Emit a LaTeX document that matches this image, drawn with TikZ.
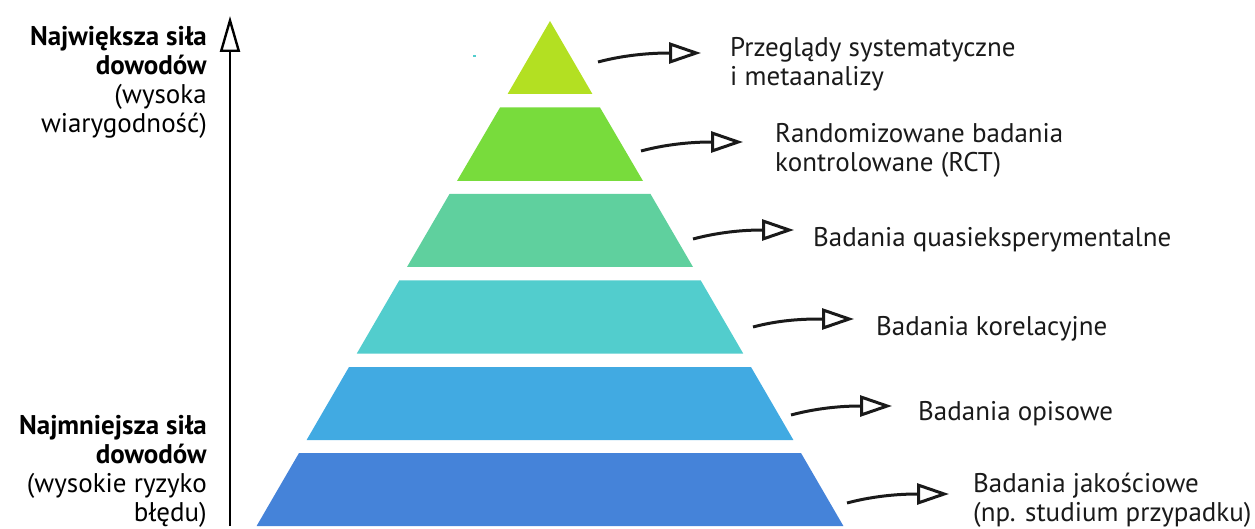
\documentclass[tikz,border=0pt]{standalone}
\usepackage{fontspec}
\setmainfont{PT Sans}
\usetikzlibrary{arrows.meta}
\definecolor{lvA}{HTML}{B3E022}
\definecolor{lvB}{HTML}{78DC3C}
\definecolor{lvC}{HTML}{5FD09E}
\definecolor{lvD}{HTML}{52CDCD}
\definecolor{lvE}{HTML}{41AAE2}
\definecolor{lvF}{HTML}{4583D9}
\definecolor{ink}{HTML}{1A1A1A}
\tikzset{
  lbl/.style={anchor=west, align=left, inner sep=0pt, font=\fontsize{27}{29}\selectfont, text=ink},
  side/.style={anchor=east, align=right, inner sep=0pt, font=\fontsize{27}{29}\selectfont, text=black},
  curvarrow/.style={draw=ink, line width=3pt, -{Triangle[open, length=32pt, width=21pt, line width=3pt]}},
}
\begin{document}
\begin{tikzpicture}[x=1pt,y=-1pt]
\useasboundingbox (0,0) rectangle (1255,529);
% pyramid bands
\fill[lvA] (550,21) -- (592.4,94) -- (507.6,94) -- cycle;
\fill[lvB] (500,107.5) -- (600,107.5) -- (643,181) -- (457,181) -- cycle;
\fill[lvC] (449.5,194) -- (650.5,194) -- (693,267) -- (407,267) -- cycle;
\fill[lvD] (399.2,280.5) -- (700.8,280.5) -- (743.2,353.5) -- (356.8,353.5) -- cycle;
\fill[lvE] (349,367) -- (751,367) -- (793.4,440) -- (306.6,440) -- cycle;
\fill[lvF] (299,453) -- (801,453) -- (843.4,526) -- (256.6,526) -- cycle;
\fill[lvD] (473,55) rectangle (475.5,57.5);
% axis
\coordinate (axb) at (230,526);
\coordinate (axt) at (230,16);
\draw[line width=2.2pt, -{Triangle[open, length=36pt, width=20pt, line width=2.4pt]}] (axb) -- (axt);
% side labels
\node[side] (top) at (207,82) {\textbf{Największa siła}\\\textbf{dowodów}\\(wysoka\\wiarygodność)};
\node[side] (bot) at (207,471) {\textbf{Najmniejsza siła}\\\textbf{dowodów}\\(wysokie ryzyko\\błędu)};
% labels
\node[lbl] (t1) at (730,64) {Przeglądy systematyczne\\i metaanalizy};
\node[lbl] (t2) at (775,150) {Randomizowane badania\\kontrolowane (RCT)};
\node[lbl] (t3) at (813,240) {Badania quasieksperymentalne};
\node[lbl] (t4) at (876,329) {Badania korelacyjne};
\node[lbl] (t5) at (918,414) {Badania opisowe};
\node[lbl] (t6) at (973,500) {Badania jakościowe\\(np. studium przypadku)};
% arrows
\coordinate (s1) at (598,62);  \coordinate (e1) at (701,53);
\coordinate (s2) at (641,151); \coordinate (e2) at (743,142);
\coordinate (s3) at (693,239); \coordinate (e3) at (794,230);
\coordinate (s4) at (753,327); \coordinate (e4) at (854,319);
\coordinate (s5) at (791,415); \coordinate (e5) at (892,406);
\coordinate (s6) at (847,503); \coordinate (e6) at (949,494);
\foreach \i in {1,...,6}{
  \draw[curvarrow] (s\i) .. controls ([shift={(30,-8)}]s\i) and ([shift={(-45,0)}]e\i) .. (e\i);
}
\end{tikzpicture}
\end{document}
